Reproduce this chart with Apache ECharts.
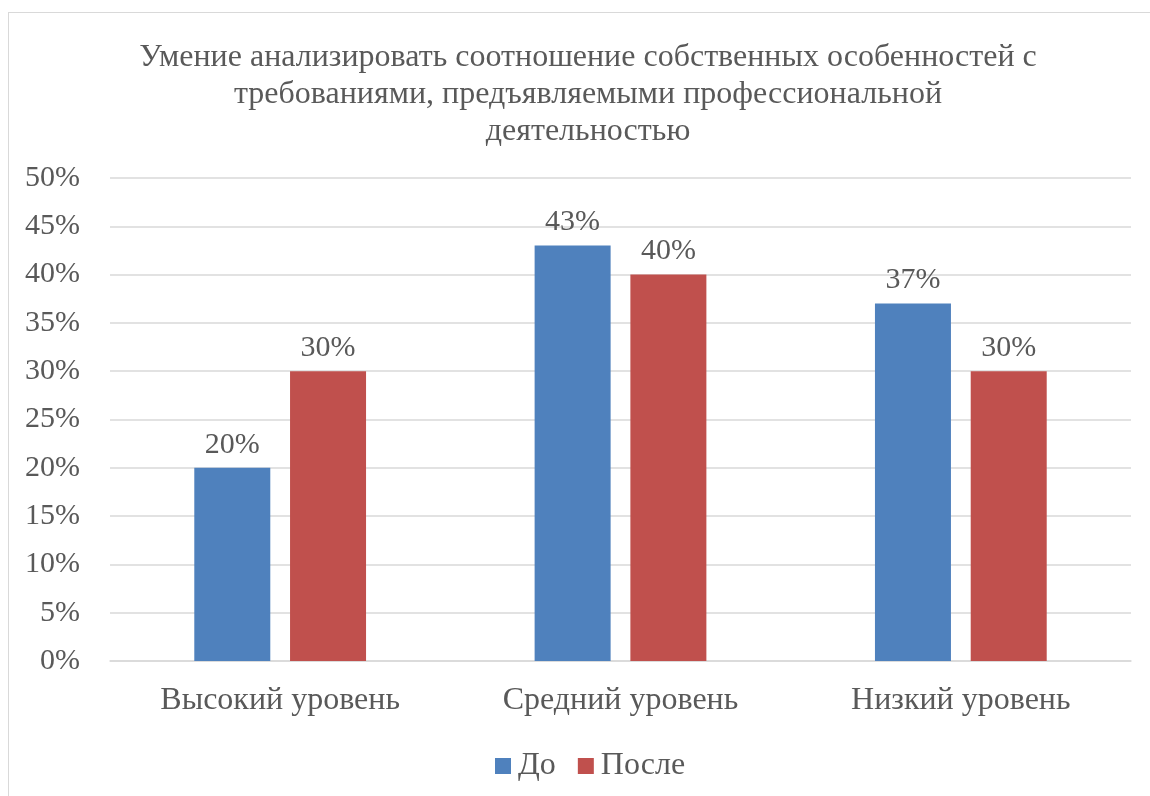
<!DOCTYPE html>
<html><head><meta charset="utf-8">
<script src="https://cdn.jsdelivr.net/npm/echarts@6/dist/echarts.min.js"></script>
<style>
html,body{margin:0;padding:0;background:#fff;}
#frame{position:absolute;left:8px;top:12px;width:1200px;height:900px;border:1.5px solid #d9d9d9;box-sizing:border-box;}
#chart{position:absolute;left:0;top:0;width:1150px;height:796px;}
</style></head>
<body>
<div id="frame"></div>
<div id="chart"></div>
<script>
const titleText = 'Умение анализировать соотношение собственных особенностей с\nтребованиями, предъявляемыми профессиональной\nдеятельностью';
const categories = ['Высокий уровень', 'Средний уровень', 'Низкий уровень'];
const seriesNames = ['До', 'После'];
const beforeValues = [20, 43, 37];
const afterValues = [30, 40, 30];
const yTicks = [0, 5, 10, 15, 20, 25, 30, 35, 40, 45, 50];

const textColor = '#595959';
const font = 'Liberation Serif, Times New Roman, serif';
const chart = echarts.init(document.getElementById('chart'));
const labelCfg = {show:true, position:'top', distance:8, formatter: p => p.value + '%', color:textColor, fontFamily:font, fontSize:30};
chart.setOption({
  animation:false,
  title:{text:titleText, left:583, top:34, textAlign:'center',
    textStyle:{color:textColor, fontFamily:font, fontSize:32, fontWeight:'normal', lineHeight:37}},
  legend:{data:seriesNames, left:490, top:745, itemWidth:16, itemHeight:16, itemGap:22,
    icon:'rect', textStyle:{color:textColor, fontFamily:font, fontSize:32, padding:[0,0,0,2]}},
  grid:{left:110, right:19, top:178, bottom:135},
  xAxis:{type:'category', data:categories,
    axisLine:{lineStyle:{color:'#d9d9d9', width:1.5}}, axisTick:{show:false},
    axisLabel:{color:textColor, fontFamily:font, fontSize:32, margin:24}},
  yAxis:{type:'value', min:yTicks[0], max:yTicks[yTicks.length-1], interval:5,
    axisLine:{show:false}, axisTick:{show:false},
    splitLine:{lineStyle:{color:'#d9d9d9', width:1.5}},
    axisLabel:{formatter: v => v + '%', color:textColor, fontFamily:font, fontSize:30, margin:30}},
  series:[
    {name:seriesNames[0], type:'bar', data:beforeValues, barWidth:76, barGap:'26%', itemStyle:{color:'#4F81BD'}, label:labelCfg},
    {name:seriesNames[1], type:'bar', data:afterValues, barWidth:76, barGap:'26%', itemStyle:{color:'#C0504D'}, label:labelCfg}
  ]
});
</script>
</body></html>
